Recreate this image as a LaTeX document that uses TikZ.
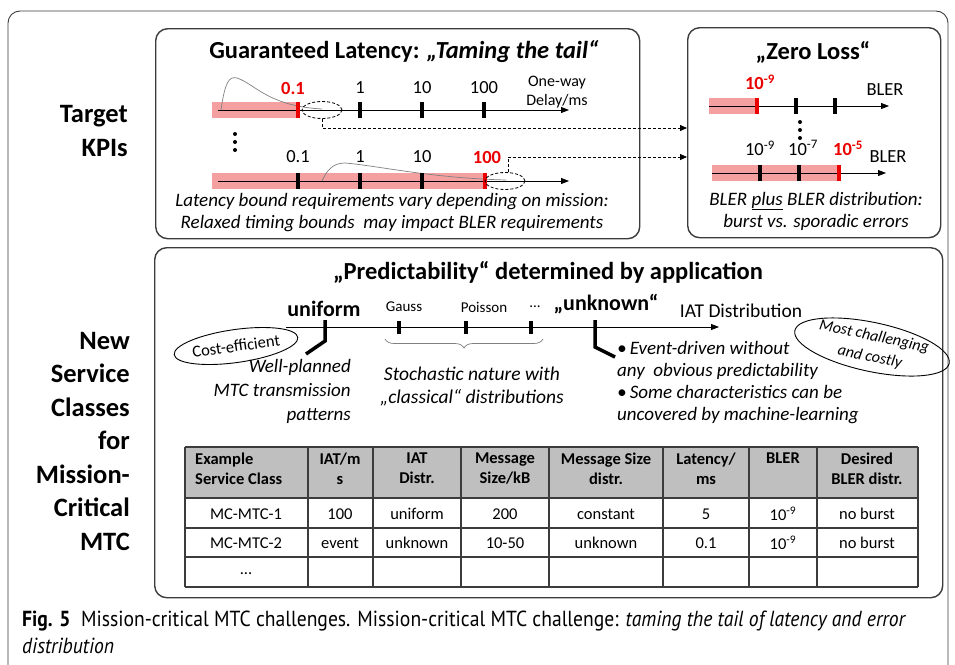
\documentclass[tikz,border=0pt]{standalone}
\usepackage{fontspec}
\setmainfont{Carlito}
\newfontfamily\capfont[FakeStretch=0.9]{PT Sans}
\usetikzlibrary{arrows.meta,shapes.geometric,decorations.pathreplacing,calc}
\definecolor{band}{RGB}{244,160,160}
\definecolor{hdr}{RGB}{191,191,191}
\definecolor{redtxt}{RGB}{235,0,0}
\definecolor{frm}{RGB}{60,60,60}
\begin{document}
\begin{tikzpicture}[x=1pt,y=-1pt,
  panel/.style={draw=frm,line width=1.4pt,rounded corners=12pt},
  outer/.style={draw=frm,line width=0.9pt,rounded corners=12pt},
  axis/.style={line width=0.8pt,-{Triangle[length=8pt,width=6pt]}},
  tk/.style={line width=3.5pt},
  rtk/.style={line width=3.5pt,draw=redtxt},
  bandbox/.style={fill=band,draw=none},
  dconn/.style={line width=0.8pt,dash pattern=on 3pt off 2pt,-{Triangle[length=7pt,width=6pt]}},
  dell/.style={draw,line width=0.8pt,dash pattern=on 3pt off 2pt,ellipse,minimum width=40pt,minimum height=17pt,inner sep=0pt},
  curve/.style={draw=gray,line width=0.7pt},
  side/.style={font=\fontsize{26.5}{33.5}\selectfont\bfseries,align=right,inner sep=0pt},
  ttl/.style={font=\fontsize{24.5}{28}\selectfont\bfseries,inner sep=0pt},
  lbl/.style={font=\fontsize{18.5}{20}\selectfont,inner sep=0pt},
  slbl/.style={font=\fontsize{16}{19}\selectfont,inner sep=0pt},
  rlbl/.style={font=\fontsize{18.5}{20}\selectfont\bfseries,text=redtxt,inner sep=0pt},
  itx/.style={font=\fontsize{19}{22}\selectfont\itshape,inner sep=0pt},
  hcell/.style={font=\fontsize{16.5}{20}\selectfont\bfseries,inner sep=0pt,anchor=north,align=center},
  bcell/.style={font=\fontsize{16.5}{18}\selectfont,inner sep=0pt},
  tline/.style={draw=frm,line width=1.1pt},
  dot/.style={fill=black,circle,inner sep=0pt,minimum size=4pt}
]
\useasboundingbox (0,0) rectangle (955,664);
% outer frame
\draw[outer] (8,680) -- (8,11) -- (948,11) -- (948,680);

% side labels
\node[side,anchor=east] (tk1) at (128,131) {Target\\KPIs};
\node[side,anchor=east] (tk2) at (130,441) {New\\Service\\Classes\\for\\Mission-\\Critical\\MTC};

% ===== latency panel
\node[panel,anchor=north west,minimum width=484pt,minimum height=210pt] (lat) at (155,28) {};
\node[ttl] (latt) at (404,52) {Guaranteed Latency: \textit{„Taming the tail“}};
% axis 1
\fill[bandbox] (212,102) rectangle (298,118);
\coordinate (a1s) at (218,110); \coordinate (a1e) at (569,110);
\draw[axis] (a1s) -- (a1e);
\draw[curve] (221,110) .. controls (225,82) and (229,76) .. (237,78) .. controls (255,84) and (268,106) .. (322,109);
\draw[rtk] (298,102) -- (298,118);
\foreach \x in {360,422,484} \draw[tk] (\x,102) -- (\x,118);
\node[rlbl] at (293,88) {0.1};
\node[lbl] at (360,88) {1};
\node[lbl] at (422,88) {10};
\node[lbl] at (484,88) {100};
\node[slbl,align=center] at (557,92) {One-way\\Delay/ms};
\node[dell] (e1) at (322,110) {};
% dots
\node[dot] (d1) at (235,134) {};
\node[dot] (d2) at (235,142) {};
\node[dot] (d3) at (235,150) {};
% axis 2
\fill[bandbox] (212,173) rectangle (485,189);
\coordinate (a2s) at (218,181); \coordinate (a2e) at (569,181);
\draw[axis] (a2s) -- (a2e);
\draw[curve] (322,181) .. controls (327,170) and (333,163) .. (345,163) .. controls (380,166) and (430,178) .. (506,180);
\foreach \x in {298,360,422} \draw[tk] (\x,173) -- (\x,189);
\draw[rtk] (485,173) -- (485,189);
\node[lbl] at (298,157) {0.1};
\node[lbl] at (360,157) {1};
\node[lbl] at (422,157) {10};
\node[rlbl] at (487,157) {100};
\node[dell] (e2) at (505,181) {};
\node[itx,align=center] (latx) at (392,213) {Latency bound requirements vary depending on mission:\\Relaxed timing bounds\ \ may impact BLER requirements};

% ===== zero loss panel
\node[panel,anchor=north west,minimum width=253pt,minimum height=210pt] (zl) at (687,27) {};
\node[ttl] (zlt) at (813,52) {„Zero Loss“};
\fill[bandbox] (709,98) rectangle (757,114);
\coordinate (b1s) at (709,106); \coordinate (b1e) at (889,106);
\draw[axis] (b1s) -- (b1e);
\draw[rtk] (757,98) -- (757,114);
\foreach \x in {796,835} \draw[tk] (\x,98) -- (\x,114);
\node[rlbl] at (760,82) {10\textsuperscript{-9}};
\node[lbl] at (885,90) {BLER};
\node[dot] (d4) at (800,122) {};
\node[dot] (d5) at (800,130) {};
\node[dot] (d6) at (800,138) {};
\fill[bandbox] (712,165) rectangle (839,181);
\coordinate (b2s) at (712,173); \coordinate (b2e) at (886,173);
\draw[axis] (b2s) -- (b2e);
\foreach \x in {760,799} \draw[tk] (\x,165) -- (\x,181);
\draw[rtk] (839,165) -- (839,181);
\node[lbl] at (760,148) {10\textsuperscript{-9}};
\node[lbl] at (803,148) {10\textsuperscript{-7}};
\node[rlbl] at (848,148) {10\textsuperscript{-5}};
\node[lbl] at (888,157) {BLER};
\node[itx,align=center] (zlx) at (816,211) {BLER \underline{plus} BLER distribution:\\burst vs. sporadic errors};

% connectors
\coordinate (y1) at (0,128);
\coordinate (y2) at (0,157);
\draw[dconn] (e1.south) |- (zl.west |- y1);
\draw[dconn] (e2.70) |- (zl.west |- y2);

% ===== predictability panel
\node[panel,anchor=north west,minimum width=788pt,minimum height=350pt] (pr) at (154,247) {};
\node[ttl] (prt) at (548,272) {„Predictability“ determined by application};
\node[draw,ellipse,line width=0.9pt,rotate=8,inner sep=0pt,minimum width=104pt,minimum height=33pt,font=\fontsize{16.5}{18}\selectfont] (ce) at (236,346) {Cost-efficient};
\coordinate (c1s) at (286,327); \coordinate (c1e) at (719,327);
\draw[axis] (c1s) -- (c1e);
\draw[tk,line join=miter] (325,320) -- (325,341) -- (306,354);
\draw[tk,line join=miter] (595,320) -- (595,347) -- (615,357);
\foreach \x in {399,466,531} \draw[tk] (\x,321) -- (\x,334);
\node[font=\fontsize{22}{24}\selectfont\bfseries,inner sep=0pt] at (324,309) {uniform};
\node[font=\fontsize{15}{18}\selectfont,inner sep=0pt] at (404,307) {Gauss};
\node[font=\fontsize{15}{18}\selectfont,inner sep=0pt] at (484,307) {Poisson};
\node[font=\fontsize{15}{18}\selectfont,inner sep=0pt] at (535,307) {...};
\node[font=\fontsize{22}{24}\selectfont\bfseries,inner sep=0pt] at (606,304) {„unknown“};
\node[font=\fontsize{19.5}{22}\selectfont,inner sep=0pt] at (741,311) {IAT Distribution};
\draw[decorate,decoration={brace,mirror,amplitude=9pt},draw=gray,line width=0.7pt] (385,339) -- (543,339);
\node[align=right,anchor=east,inner sep=0pt,font=\fontsize{19}{24}\selectfont\itshape] at (351,391) {Well-planned\\MTC transmission\\patterns};
\node[align=center,inner sep=0pt,font=\fontsize{19.5}{23}\selectfont\itshape] at (472,386) {Stochastic nature with\\„classical“ distributions};
\node[align=left,anchor=north west,inner sep=0pt,font=\fontsize{19}{22}\selectfont\itshape] at (617,341) {\textbullet\,Event-driven without\\any\ \ obvious predictability\\\textbullet\,Some characteristics can be\\uncovered by machine-learning};
\node[draw,ellipse,line width=0.9pt,rotate=-12,inner sep=0pt,minimum width=134pt,minimum height=44pt,align=center,font=\fontsize{16}{21}\selectfont\itshape] (mc) at (872,347) {Most challenging\\and costly};

% table
\fill[hdr] (185,447) rectangle (918,498);
\foreach \y in {447,498,528,557,587} \draw[tline] (185,\y) -- (918,\y);
\foreach \x in {185,308,373,461,549,663,749,817,918} \draw[tline] (\x,447) -- (\x,587);
\node[hcell,anchor=north west,align=left] at (195,453) {Example\\Service Class};
\node[hcell] at (340,453) {IAT/m\\s};
\node[hcell] at (417,453) {IAT\\Distr.};
\node[hcell] at (505,453) {Message\\Size/kB};
\node[hcell] at (606,453) {Message Size\\distr.};
\node[hcell] at (706,453) {Latency/\\ms};
\node[hcell] at (783,453) {BLER};
\node[hcell] at (867,453) {Desired\\BLER distr.};
\foreach \x/\t in {246/MC-MTC-1,340/100,417/uniform,505/200,606/constant,706/5,783/10\textsuperscript{-9},867/no burst}
  \node[bcell] at (\x,514) {\t};
\foreach \x/\t in {246/MC-MTC-2,340/event,417/unknown,505/10-50,606/unknown,706/0.1,783/10\textsuperscript{-9},867/no burst}
  \node[bcell] at (\x,543) {\t};
\node[bcell] at (246,574) {...};

% caption
\node[anchor=north west,inner sep=0pt,align=left,font=\capfont\fontsize{21.8}{27}\selectfont] (cap) at (22,611) {\textbf{Fig. 5}\ \ Mission-critical MTC challenges. Mission-critical MTC challenge: \textit{taming the tail of latency and error}\\\textit{distribution}};
\end{tikzpicture}
\end{document}
